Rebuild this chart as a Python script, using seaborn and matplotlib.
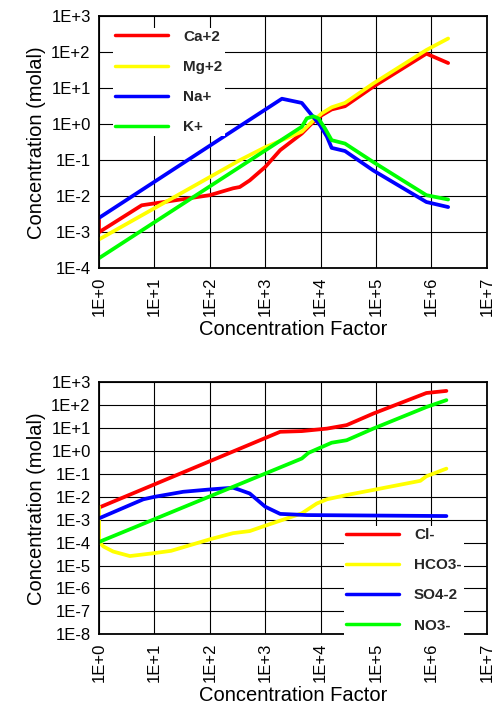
"""
Concentration vs concentration factor (evaporation) - cations and anions.
"""
import numpy as np
import pandas as pd
import matplotlib
matplotlib.use("Agg")
import matplotlib.pyplot as plt
from matplotlib.ticker import FuncFormatter, FixedLocator, NullLocator
import seaborn as sns

# --- cations (top panel) ---
ca_x = [1, 1, 5.9, 33, 100, 263, 347, 525, 1000, 1860, 4570, 6920, 1.05e4, 1.58e4, 2.75e4, 8.9e4, 8.1e5, 2.0e6]
ca_y = [2.2e-3, 1.0e-3, 5.6e-3, 8.3e-3, 1.07e-2, 1.66e-2, 1.8e-2, 2.75e-2, 6.5e-2, 0.19, 0.55, 1.05, 1.78, 2.57, 3.16, 11, 91, 50]

mg_x = [1, 347, 1000, 4570, 6920, 1.05e4, 1.58e4, 2.75e4, 8.9e4, 8.1e5, 2.0e6]
mg_y = [6.3e-4, 0.1, 0.23, 0.62, 1.15, 2.0, 2.95, 3.9, 13.5, 115, 240]

na_x = [1, 2000, 4570, 6920, 9800, 1.3e4, 1.58e4, 2.75e4, 8.9e4, 8.1e5, 2.0e6]
na_y = [2.5e-3, 5.1, 3.9, 1.78, 0.93, 0.45, 0.22, 0.18, 0.052, 6.9e-3, 5.0e-3]

k_x = [1, 4570, 5620, 7400, 9100, 1.2e4, 1.58e4, 2.75e4, 8.9e4, 8.1e5, 2.0e6]
k_y = [1.9e-4, 0.85, 1.45, 1.66, 1.45, 0.76, 0.36, 0.29, 0.089, 0.0107, 8.1e-3]

# --- anions (bottom panel) ---
cl_x = [1, 1860, 4570, 1.3e4, 2.95e4, 8.9e4, 8.1e5, 1.86e6]
cl_y = [3.4e-3, 6.9, 7.4, 9.5, 13.5, 43, 340, 420]

hco3_x = [1, 1, 1.2, 1.8, 3.6, 10, 20, 100, 263, 525, 1000, 1860, 4570, 8500, 1.3e4, 2.95e4, 8.9e4, 6.3e5, 8.1e5, 1.86e6]
hco3_y = [3.7e-3, 1.1e-4, 6.8e-5, 4.1e-5, 2.6e-5, 3.5e-5, 4.4e-5, 1.4e-4, 2.6e-4, 3.2e-4, 5.5e-4, 9.1e-4, 1.9e-3, 5.1e-3, 7.8e-3, 1.2e-2, 2.0e-2, 5.0e-2, 7.9e-2, 0.17]

so4_x = [1, 6.3, 10, 33, 100, 263, 347, 525, 1000, 1860, 5620, 1.86e6]
so4_y = [1.15e-3, 7.8e-3, 1.0e-2, 1.66e-2, 2.1e-2, 2.5e-2, 2.0e-2, 1.4e-2, 3.7e-3, 1.8e-3, 1.6e-3, 1.45e-3]

no3_x = [1, 4570, 6030, 1.58e4, 2.95e4, 8.9e4, 8.1e5, 1.86e6]
no3_y = [1.07e-4, 0.47, 0.83, 2.3, 2.95, 9.5, 83, 166]

cation_names = ["Ca+2", "Mg+2", "Na+", "K+"]
anion_names = ["Cl-", "HCO3-", "SO4-2", "NO3-"]
colors = ["#FF0000", "#FFFF00", "#0000FF", "#00FF00"]


def montar_df(nomes, series):
    partes = []
    for nome, (xs, ys) in zip(nomes, series):
        partes.append(pd.DataFrame({"cf": xs, "conc": ys, "esp": nome}))
    return pd.concat(partes, ignore_index=True)


df_cat = montar_df(cation_names, [(ca_x, ca_y), (mg_x, mg_y), (na_x, na_y), (k_x, k_y)])
df_an = montar_df(anion_names, [(cl_x, cl_y), (hco3_x, hco3_y), (so4_x, so4_y), (no3_x, no3_y)])

sns.set_theme(style="white")
plt.rcParams["font.family"] = ["Liberation Sans", "DejaVu Sans"]

fig = plt.figure(figsize=(4.96, 7.04), dpi=100)
ax1 = fig.add_axes([0.1996, 0.619, 0.782, 0.358])
ax2 = fig.add_axes([0.1996, 0.099, 0.782, 0.358])

fmt = FuncFormatter(lambda v, p: f"1E{int(round(np.log10(v))):+d}")


def desenhar(ax, df, nomes, ymin_exp):
    sns.lineplot(data=df, x="cf", y="conc", hue="esp", hue_order=nomes,
                 palette=dict(zip(nomes, colors)), sort=False, estimator=None,
                 linewidth=2.7, ax=ax)
    ax.set_xscale("log")
    ax.set_yscale("log")
    ax.set_xlim(1, 1e7)
    ax.set_ylim(10.0 ** ymin_exp, 1e3)
    ax.xaxis.set_major_locator(FixedLocator([10.0 ** e for e in range(0, 8)]))
    ax.yaxis.set_major_locator(FixedLocator([10.0 ** e for e in range(ymin_exp, 4)]))
    ax.xaxis.set_minor_locator(NullLocator())
    ax.yaxis.set_minor_locator(NullLocator())
    ax.xaxis.set_major_formatter(fmt)
    ax.yaxis.set_major_formatter(fmt)
    ax.grid(True, color="black", linewidth=0.8)
    for s in ax.spines.values():
        s.set_color("black")
        s.set_linewidth(1.3)
    ax.tick_params(axis="both", which="major", direction="out", length=4, width=0.8,
                   color="black", labelsize=12, labelcolor="black", pad=2)
    ax.tick_params(axis="x", labelrotation=90)
    ax.set_xlabel("Concentration Factor", fontsize=14.5, color="black", labelpad=3)
    ax.set_ylabel("Concentration (molal)", fontsize=14.5, color="black", labelpad=4)


desenhar(ax1, df_cat, cation_names, -4)
desenhar(ax2, df_an, anion_names, -8)

# legendas com fundo branco, sem borda, por cima da grade
estilo_leg = dict(borderaxespad=0, borderpad=0.15, handlelength=3.45, handletextpad=1.0,
                  labelspacing=1.05, frameon=True, framealpha=1, edgecolor="white",
                  fancybox=False, prop={"weight": "bold", "size": 11})
h, l = ax1.get_legend_handles_labels()
leg1 = ax1.legend(h, l, loc="upper left", bbox_to_anchor=(0.036, 0.955), **estilo_leg)
h, l = ax2.get_legend_handles_labels()
leg2 = ax2.legend(h, l, loc="lower left", bbox_to_anchor=(0.631, -0.002), **estilo_leg)
for leg in (leg1, leg2):
    leg.get_frame().set_linewidth(0)
    for ln in leg.get_lines():
        ln.set_linewidth(2.5)

fig.savefig("out.png", dpi=100)
